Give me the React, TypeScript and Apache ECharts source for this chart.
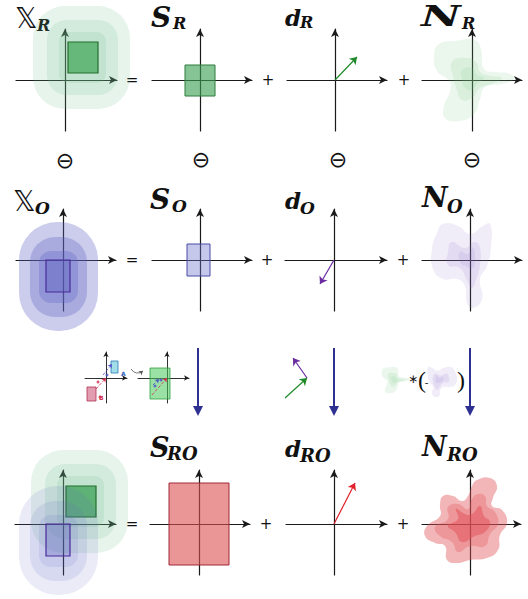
import React, { useEffect, useRef } from "react";
import * as echarts from "echarts";

// ---------------- data (diagram units, relative to each panel's axes origin, y up) ----------------
const supportR = [3, 7, 33, 38];
const supportO = [-17, -32, 7, 0];
const haloR = [
  [-32, -29, 65, 74, 32],
  [-18, -15, 53, 60, 20],
  [-6, -3, 41, 48, 9],
];
const haloO = [
  [-44, -71, 35, 38, 38],
  [-33, -57, 24, 23, 25],
  [-24, -43, 15, 9, 12],
];
const boxSR = [-15, -16, 15, 15];
const boxSO = [-13, -16, 10, 16];
const boxSRO = [-30, -41, 30, 41];
const vecDR = [22, 23];
const vecDO = [-14, -24];
const vecDRO = [21, 41];

const blobNR = [
  [[-38, 24], [-33, 36], [-17, 39], [3, 40], [9, 31], [12, 11], [23, 8], [38, 6], [42, 1], [30, -4], [13, -7], [8, -19], [2, -34], [-13, -41], [-27, -38], [-28, -26], [-22, -11], [-23, -1], [-35, 9]],
  [[-20, 18], [-5, 22], [5, 17], [8, 8], [20, 4], [30, 2], [20, -4], [8, -8], [0, -18], [-10, -20], [-15, -10], [-18, 0]],
  [[-10, 10], [0, 12], [5, 5], [12, 2], [5, -4], [0, -10], [-7, -8], [-10, 0]],
];
const blobNO = [
  [[-27, 36], [-12, 34], [0, 26], [13, 34], [20, 36], [21, 14], [17, -6], [10, -19], [12, -39], [3, -48], [-3, -43], [-5, -26], [-13, -19], [-27, -19], [-37, -9], [-38, 11], [-33, 27]],
  [[-18, 18], [-5, 12], [5, 18], [10, 12], [10, -5], [6, -20], [2, -28], [-3, -20], [-10, -8], [-22, -5], [-22, 8]],
  [[-10, 8], [-2, 6], [3, 12], [5, 0], [3, -8], [-5, -6], [-10, -2]],
];
const blobNRO = [
  [[7, 44], [20, 46], [27, 38], [23, 26], [22, 18], [32, 14], [37, 1], [30, -11], [28, -26], [17, -34], [0, -36], [-13, -39], [-23, -36], [-25, -22], [-35, -19], [-45, -12], [-43, -2], [-30, 8], [-30, 19], [-27, 28], [-17, 28], [-8, 23], [-2, 28], [2, 38]],
  [[8, 30], [15, 28], [17, 18], [25, 12], [28, 0], [20, -10], [15, -22], [0, -22], [-12, -28], [-18, -18], [-30, -12], [-35, -3], [-22, 5], [-22, 17], [-12, 20], [-2, 15], [2, 25]],
  [[10, 18], [14, 8], [20, 2], [15, -8], [5, -12], [-8, -18], [-15, -8], [-22, -2], [-12, 5], [-14, 15], [-5, 10], [2, 10]],
];

// middle row (sketch of the Minkowski construction)
const insetRectA = [5, 5, 12, 17];
const insetRectB = [-19, -23, -10, -9];
const insetSum = [-17, -21, 3, 10];
const insetSegA = [[[-3, 3], [6, 14]]];
const insetSegB = [[[-10, -11], [0, 0]]];
const insetSumSegs = [[[-15, -17], [0, 0]]];
const insetSumSegsB = [[[-14, -7], [-8, -1]]];
const insetDotsRed = [[-8, -4], [-6, -19]];
const insetDotsBlue = [[1, 3]];
const insetDotsSum = [[-12, -8], [-6, -2]];
const curveArrow = [[[25, 9], [37, 7]]];
const midGreen = [[[-22, -20], [0, 0]]];
const midPurple = [[[0, 0], [-14, 20]]];

// ---------------- layout ----------------
type Panel = { ox: number; oy: number; L: number; R: number; U: number; D: number; sx?: number; sy?: number; axes?: boolean; small?: boolean; invX?: boolean };
const PANELS: Panel[] = [
  { ox: 65, oy: 80, L: 49, R: 52, U: 51, D: 51, axes: true }, // 0 XR
  { ox: 200, oy: 80, L: 48, R: 52, U: 51, D: 51, axes: true }, // 1 SR
  { ox: 335, oy: 80, L: 48, R: 52, U: 51, D: 51, axes: true }, // 2 dR
  { ox: 472, oy: 80, L: 50, R: 50, U: 51, D: 51, axes: true }, // 3 NR
  { ox: 63, oy: 260, L: 47, R: 53, U: 51, D: 51, axes: true }, // 4 XO
  { ox: 200, oy: 260, L: 48, R: 52, U: 51, D: 51, axes: true }, // 5 SO
  { ox: 334, oy: 260, L: 49, R: 53, U: 51, D: 51, axes: true }, // 6 dO
  { ox: 470, oy: 260, L: 48, R: 52, U: 51, D: 51, axes: true }, // 7 NO
  { ox: 63, oy: 524, L: 48, R: 53, U: 54, D: 51, axes: true }, // 8 XRO
  { ox: 199, oy: 524, L: 49, R: 51, U: 54, D: 51, axes: true }, // 9 SRO
  { ox: 334, oy: 524, L: 48, R: 53, U: 54, D: 51, axes: true }, // 10 dRO
  { ox: 470, oy: 524, L: 48, R: 51, U: 54, D: 51, axes: true }, // 11 NRO
  { ox: 106, oy: 378, L: 21, R: 21, U: 26, D: 25, axes: true, small: true }, // 12 inset A
  { ox: 167, oy: 378, L: 29, R: 22, U: 26, D: 25, axes: true, small: true }, // 13 inset B
  { ox: 307, oy: 378, L: 30, R: 10, U: 25, D: 25 }, // 14 mid vectors
  { ox: 395, oy: 380, L: 17.5, R: 17.5, U: 16, D: 16, sx: 0.35, sy: 0.32 }, // 15 mini N_R
  { ox: 438, oy: 380, L: 24.5, R: 24.5, U: 18, D: 18, sx: 0.49, sy: 0.36, invX: true }, // 16 mini flipped N_O
];

const GREEN_HALO = "rgba(110,190,140,0.17)";
const PURPLE_HALO = "rgba(95,100,195,0.32)";
const PURPLE_HALO_LIGHT = "rgba(95,100,195,0.13)";
const GREEN_BLOB = "rgba(120,200,135,0.15)";
const PURPLE_BLOB = "rgba(150,120,205,0.14)";
const RED_BLOB = ["rgba(225,80,85,0.42)", "rgba(225,80,85,0.3)", "rgba(225,80,85,0.5)"];

function rectS(gi: number, rects: number[][], fills: string[], strokes: string[] | null, lw: number) {
  return {
    type: "custom", xAxisIndex: gi, yAxisIndex: gi, coordinateSystem: "cartesian2d", clip: false, silent: true,
    data: rects.map((r) => [r[0], r[1], r[2], r[3], r[4] ?? 0]),
    encode: { x: [0, 2], y: [1, 3] },
    renderItem: (params: any, api: any) => {
      const a = api.coord([api.value(0), api.value(1)]);
      const b = api.coord([api.value(2), api.value(3)]);
      const i = params.dataIndex;
      return {
        type: "rect",
        shape: { x: Math.min(a[0], b[0]), y: Math.min(a[1], b[1]), width: Math.abs(b[0] - a[0]), height: Math.abs(b[1] - a[1]), r: api.value(4) },
        style: { fill: fills[i], stroke: strokes ? strokes[i] : "none", lineWidth: lw },
      };
    },
  };
}

function blobS(gi: number, levels: number[][][], fills: string[]) {
  return {
    type: "custom", xAxisIndex: gi, yAxisIndex: gi, coordinateSystem: "cartesian2d", clip: false, silent: true,
    data: levels.map((_, i) => [0, 0, i]),
    encode: { x: 0, y: 1 },
    renderItem: (params: any, api: any) => ({
      type: "polygon",
      shape: { points: levels[params.dataIndex].map((pt) => api.coord(pt)), smooth: 0.5 },
      style: { fill: fills[params.dataIndex] },
    }),
  };
}

function vecS(gi: number, segs: number[][][], color: string, width: number, sym: number[], dashed = false, curve = 0) {
  return {
    type: "lines", coordinateSystem: "cartesian2d", xAxisIndex: gi, yAxisIndex: gi, clip: false, silent: true,
    symbol: ["none", "arrow"], symbolSize: sym,
    lineStyle: { color, width, type: dashed ? "dashed" : "solid", opacity: 1, curveness: curve },
    data: segs.map((s) => ({ coords: s })),
  };
}

function dotS(gi: number, pts: number[][], color: string) {
  return { type: "scatter", xAxisIndex: gi, yAxisIndex: gi, symbolSize: 3, silent: true, itemStyle: { color }, data: pts };
}

const SERIF_BI = "'DejaVu Serif', 'Liberation Serif', serif";
function txt(text: string, x: number, y: number, size: number, opts: any = {}) {
  const font = `${opts.italic ? "italic" : "normal"} ${opts.bold ? "bold" : "normal"} ${size}px ${opts.family || SERIF_BI}`;
  return {
    type: "text", x, y, silent: true, scaleX: opts.scaleX || 1,
    style: {
      text, font, fill: opts.color || "#111",
      align: opts.align || "left", verticalAlign: "middle",
      textAlign: opts.align || "left", textVerticalAlign: "middle",
    },
  };
}
function title(main: string, sub: string, mx: number, my: number, ms: number, sx: number, sy: number, ss: number, dbl = false, mScaleX = 1) {
  return [
    dbl
      ? txt(main, mx, my, ms, { family: "'DejaVu Sans', 'DejaVu Serif', 'Noto Sans', sans-serif" })
      : txt(main, mx, my, ms, { bold: true, italic: true, scaleX: mScaleX }),
    txt(sub, sx, sy, ss, { bold: true, italic: true }),
  ];
}
function downArrow(x: number) {
  return [
    { type: "line", silent: true, shape: { x1: x, y1: 348, x2: x, y2: 408 }, style: { stroke: "#2e3192", lineWidth: 2 } },
    { type: "polygon", silent: true, shape: { points: [[x - 5, 406], [x + 5, 406], [x, 416]] }, style: { fill: "#2e3192" } },
  ];
}
const OP = "'DejaVu Sans', sans-serif";
const PAREN = "'Liberation Serif', serif";

export default function App() {
  const ref = useRef<HTMLDivElement>(null);
  useEffect(() => {
    if (!ref.current) return;
    const chart = echarts.init(ref.current, undefined, { renderer: "svg" });
    const grid = PANELS.map((p) => ({ left: p.ox - p.L, top: p.oy - p.U, width: p.L + p.R, height: p.U + p.D, containLabel: false }));
    const axisLine = (p: Panel) => ({
      show: !!p.axes, onZero: true, symbol: ["none", "arrow"], symbolSize: p.small ? [4, 5] : [6, 8],
      lineStyle: { color: "#1a1a1a", width: p.small ? 0.9 : 1.2 },
    });
    const hidden = { axisTick: { show: false }, axisLabel: { show: false }, splitLine: { show: false } };
    const xAxis = PANELS.map((p, i) => {
      const s = p.sx || 1;
      return { type: "value", gridIndex: i, min: p.invX ? -p.R / s : -p.L / s, max: p.invX ? p.L / s : p.R / s, inverse: !!p.invX, axisLine: axisLine(p), ...hidden };
    });
    const yAxis = PANELS.map((p, i) => {
      const s = p.sy || 1;
      return { type: "value", gridIndex: i, min: -p.D / s, max: p.U / s, axisLine: axisLine(p), ...hidden };
    });

    const series: any[] = [
      // row R
      rectS(0, haloR, [GREEN_HALO, GREEN_HALO, GREEN_HALO], null, 0),
      rectS(0, [supportR], ["rgb(102,184,122)"], ["rgb(35,110,45)"], 1.2),
      rectS(1, [boxSR], ["rgba(60,160,85,0.62)"], ["rgb(45,125,60)"], 1),
      vecS(2, [[[0, 0], vecDR]], "#1f8a2a", 1.2, [5, 7]),
      blobS(3, blobNR, [GREEN_BLOB, GREEN_BLOB, GREEN_BLOB]),
      // row O
      rectS(4, haloO, [PURPLE_HALO, PURPLE_HALO, PURPLE_HALO], null, 0),
      rectS(4, [supportO], ["rgba(90,95,190,0.35)"], ["rgb(74,42,154)"], 1.2),
      rectS(5, [boxSO], ["rgba(110,115,205,0.4)"], ["rgb(75,75,168)"], 1),
      vecS(6, [[[0, 0], vecDO]], "#6a2aa0", 1.2, [5, 7]),
      blobS(7, blobNO, [PURPLE_BLOB, PURPLE_BLOB, PURPLE_BLOB]),
      // row RO
      rectS(8, haloR, [GREEN_HALO, GREEN_HALO, GREEN_HALO], null, 0),
      rectS(8, [supportR], ["rgba(70,165,95,0.8)"], ["rgb(35,110,45)"], 1.2),
      rectS(8, haloO, [PURPLE_HALO_LIGHT, PURPLE_HALO_LIGHT, PURPLE_HALO_LIGHT], null, 0),
      rectS(8, [supportO], ["rgba(90,95,190,0.3)"], ["rgb(74,42,154)"], 1.2),
      rectS(9, [boxSRO], ["rgba(220,80,80,0.6)"], ["rgb(160,40,56)"], 1),
      vecS(10, [[[0, 0], vecDRO]], "#e0202a", 1.2, [5, 7]),
      blobS(11, blobNRO, RED_BLOB),
      // middle row
      rectS(12, [insetRectA], ["rgba(100,200,215,0.6)"], ["#2a7ab8"], 0.8),
      rectS(12, [insetRectB], ["rgba(200,60,100,0.5)"], ["#b03050"], 0.8),
      vecS(12, insetSegA, "#5050c8", 0.8, [3, 4], true),
      vecS(12, insetSegB, "#d03050", 0.8, [3, 4], true),
      dotS(12, insetDotsRed, "#d03050"),
      dotS(12, insetDotsBlue, "#5050c8"),
      vecS(12, curveArrow, "#555", 0.8, [3, 4], false, -0.5),
      rectS(13, [insetSum], ["rgba(70,200,90,0.55)"], ["#30a040"], 0.8),
      vecS(13, insetSumSegs, "#d03050", 0.8, [3, 4], true),
      vecS(13, insetSumSegsB, "#5050c8", 0.8, [3, 4], true),
      dotS(13, insetDotsSum, "#5050c8"),
      vecS(14, midGreen, "#1f8a2a", 1.2, [5, 7]),
      vecS(14, midPurple, "#6a2aa0", 1.2, [5, 7]),
      blobS(15, blobNR, [GREEN_BLOB, GREEN_BLOB, GREEN_BLOB]),
      blobS(16, blobNO, [PURPLE_BLOB, PURPLE_BLOB, PURPLE_BLOB]),
    ];

    const graphic: any[] = [
      ...title("𝕏", "R", 15, 18, 28, 37, 25, 16, true),
      ...title("S", "R", 151, 17, 28, 173, 23, 16),
      ...title("d", "R", 285, 17, 23, 300, 22, 16),
      ...title("N", "R", 421, 16, 28, 462, 23, 16, false, 1.55),
      ...title("𝕏", "O", 13, 201, 28, 35, 208, 17, true),
      ...title("S", "O", 150, 199, 28, 172, 206, 17),
      ...title("d", "O", 285, 200, 23, 300, 208, 17),
      ...title("N", "O", 422, 197, 28, 447, 206, 18),
      ...title("S", "RO", 150, 447, 27, 167, 453, 18),
      ...title("d", "RO", 285, 448, 23, 300, 455, 18),
      ...title("N", "RO", 422, 446, 27, 447, 454, 18),
      txt("=", 132, 80, 15, { align: "center", family: OP }),
      txt("+", 268, 80, 15, { align: "center", family: OP }),
      txt("+", 404, 80, 15, { align: "center", family: OP }),
      txt("=", 132, 260, 15, { align: "center", family: OP }),
      txt("+", 267, 260, 15, { align: "center", family: OP }),
      txt("+", 403, 260, 15, { align: "center", family: OP }),
      txt("=", 132, 524, 15, { align: "center", family: OP }),
      txt("+", 266, 524, 15, { align: "center", family: OP }),
      txt("+", 403, 524, 15, { align: "center", family: OP }),
      txt("⊖", 65, 160, 22, { align: "center", family: OP }),
      txt("⊖", 201, 159, 22, { align: "center", family: OP }),
      txt("⊖", 338, 159, 22, { align: "center", family: OP }),
      txt("⊖", 472, 159, 22, { align: "center", family: OP }),
      txt("A", 121, 373, 6, { color: "#3060c0", family: OP, bold: true }),
      txt("B", 99, 397, 6, { color: "#d03050", family: OP, bold: true }),
      txt("∗", 413, 379, 12, { align: "center", family: OP }),
      txt("(", 422, 380, 24, { align: "center", family: PAREN }),
      txt("-", 426.5, 382, 11, { align: "center", family: PAREN }),
      txt(")", 461, 380, 24, { align: "center", family: PAREN }),
      ...downArrow(198),
      ...downArrow(334),
      ...downArrow(470),
    ];

    chart.setOption({ animation: false, backgroundColor: "#ffffff", grid, xAxis, yAxis, series, graphic });
    return () => chart.dispose();
  }, []);
  return <div ref={ref} style={{ position: "fixed", left: 0, top: 0, width: 528, height: 599 }} />;
}
